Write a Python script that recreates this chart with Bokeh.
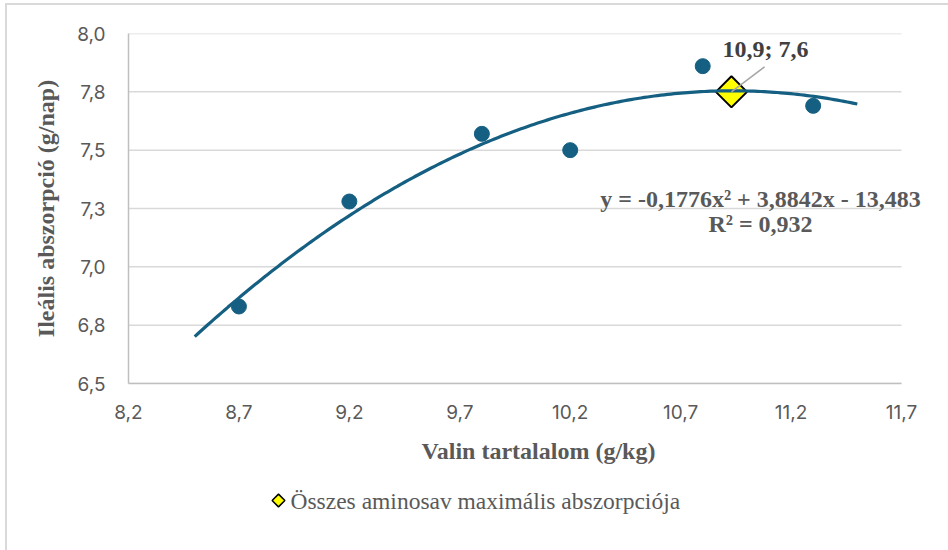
import numpy as np
from bokeh.plotting import figure
from bokeh.layouts import column
from bokeh.models import Range1d, FixedTicker, Label
from bokeh.embed import file_html
from bokeh.resources import INLINE

# ---- data ----
valin = [8.7, 9.2, 9.8, 10.2, 10.8, 11.3]
abszorpcio = [6.83, 7.28, 7.57, 7.50, 7.86, 7.69]
trend_coef = [-0.1776, 3.8842, -13.483]
trend_x_range = [8.5, 11.5]
peak_x = [10.93]
peak_y = [7.75]
peak_label = "10,9; 7,6"
equation_text = "y = -0,1776x² + 3,8842x - 13,483"
r2_text = "R² = 0,932"
legend_label = "Összes aminosav maximális abszorpciója"
x_ticks = [8.2, 8.7, 9.2, 9.7, 10.2, 10.7, 11.2, 11.7]
x_tick_labels = ["8,2", "8,7", "9,2", "9,7", "10,2", "10,7", "11,2", "11,7"]
y_ticks = [6.5, 6.75, 7.0, 7.25, 7.5, 7.75, 8.0]
y_tick_labels = ["6,5", "6,8", "7,0", "7,3", "7,5", "7,8", "8,0"]
x_title = "Valin tartalalom (g/kg)"
y_title = "Ileális abszorpció (g/nap)"

BLUE = "#156082"
SERIF = "Liberation Serif"
SANS = "Inter"

# ---- layout (page pixels) ----
BORDER = 2
OFF_X, OFF_Y = 5, 3            # outer border offset
ORIGIN_X = OFF_X + BORDER      # page x of the figures' left edge
ORIGIN_Y = OFF_Y + BORDER      # page y of the main figure's top edge
FRAME_L, FRAME_T, FRAME_B = 128, 33, 383
MAIN_BOTTOM = 485
AXIS_PX = 773
PAGE_W, PAGE_H = 948, 550
W = PAGE_W - ORIGIN_X
EXTRA_PX = PAGE_W - (FRAME_L + AXIS_PX)
x_end = x_ticks[-1] + EXTRA_PX * (x_ticks[-1] - x_ticks[0]) / AXIS_PX
H1 = MAIN_BOTTOM - ORIGIN_Y
H2 = PAGE_H - MAIN_BOTTOM

p = figure(width=W, height=H1,
           x_range=Range1d(x_ticks[0], x_end),
           y_range=Range1d(y_ticks[0], y_ticks[-1]),
           output_backend="svg", toolbar_location=None,
           min_border_left=FRAME_L - ORIGIN_X, min_border_right=0,
           min_border_top=FRAME_T - ORIGIN_Y,
           min_border_bottom=MAIN_BOTTOM - FRAME_B)
p.outline_line_color = None
p.background_fill_color = "white"
p.border_fill_color = "white"

# axes
xa = p.xaxis[0]
xa.ticker = FixedTicker(ticks=x_ticks)
xa.major_label_overrides = {t: l for t, l in zip(x_ticks, x_tick_labels)}
xa.bounds = (x_ticks[0], x_ticks[-1])
ya = p.yaxis[0]
ya.ticker = FixedTicker(ticks=y_ticks)
ya.major_label_overrides = {t: l for t, l in zip(y_ticks, y_tick_labels)}
for ax in (xa, ya):
    ax.axis_line_color = "#bfbfbf"
    ax.axis_line_width = 1.5
    ax.major_tick_line_color = None
    ax.minor_tick_line_color = None
    ax.major_tick_out = 0
    ax.major_tick_in = 0
    ax.major_label_text_font = SANS
    ax.major_label_text_font_size = "19px"
    ax.major_label_text_color = "#595959"
    ax.axis_label_text_font = SERIF
    ax.axis_label_text_font_style = "bold"
    ax.axis_label_text_font_size = "24px"
    ax.axis_label_text_color = "#595959"
xa.axis_label = x_title
ya.axis_label = y_title
xa.major_label_standoff = 21
xa.axis_label_standoff = 16
ya.major_label_standoff = 23
ya.axis_label_standoff = 15

p.xgrid.grid_line_color = None
p.ygrid.grid_line_color = None

# horizontal gridlines, limited to the axis extent
p.segment(x0=[x_ticks[0]] * len(y_ticks), x1=[x_ticks[-1]] * len(y_ticks),
          y0=y_ticks, y1=y_ticks, line_color="#d9d9d9", line_width=1.5)

# data points
p.scatter(valin, abszorpcio, size=15, marker="circle",
          fill_color=BLUE, line_color=BLUE)

# maximum absorption marker
p.scatter(peak_x, peak_y, marker="square", angle=np.pi / 4, size=22,
          fill_color="#ffff00", line_color="black", line_width=2)

# polynomial trendline
tx = np.linspace(trend_x_range[0], trend_x_range[1], 200)
ty = np.polyval(trend_coef, tx)
p.line(tx, ty, line_color=BLUE, line_width=3.2)

# leader line to data label
p.segment(x0=peak_x, y0=peak_y, x1=[peak_x[0] + 0.15], y1=[peak_y[0] + 0.107],
          line_color="#a6a6a6", line_width=1.5)

p.add_layout(Label(x=peak_x[0], y=peak_y[0], x_offset=-9, y_offset=43,
                   text=peak_label, text_font=SERIF, text_font_style="bold",
                   text_font_size="24px", text_color="#404040",
                   text_align="left", text_baseline="middle"))

# trendline equation
p.add_layout(Label(x=632, y=185, x_units="screen", y_units="screen",
                   text=equation_text, text_font=SERIF, text_font_style="bold",
                   text_font_size="24px", text_color="#595959",
                   text_align="center", text_baseline="middle"))
p.add_layout(Label(x=632, y=160, x_units="screen", y_units="screen",
                   text=r2_text, text_font=SERIF, text_font_style="bold",
                   text_font_size="24px", text_color="#595959",
                   text_align="center", text_baseline="middle"))

# ---- legend strip below the chart (ranges in page pixels) ----
lf = figure(width=W, height=H2,
            x_range=Range1d(FRAME_L, PAGE_W), y_range=Range1d(0, H2),
            x_axis_location=None, y_axis_location=None,
            output_backend="svg", toolbar_location=None,
            min_border_left=FRAME_L - ORIGIN_X, min_border_right=0,
            min_border_top=0, min_border_bottom=0)
lf.outline_line_color = None
lf.xgrid.visible = False
lf.ygrid.visible = False
LEG_KEY_X = 278
LEG_Y = PAGE_H - 500
lf.scatter(x=[LEG_KEY_X], y=[LEG_Y], marker="square", angle=np.pi / 4, size=9,
           fill_color="#ffff00", line_color="black", line_width=1.5)
lf.add_layout(Label(x=LEG_KEY_X + 12, y=LEG_Y, text=legend_label,
                    text_font=SERIF, text_font_size="23.5px",
                    text_color="#595959", text_align="left", text_baseline="middle"))

layout = column(p, lf, spacing=0,
                styles={"border-left": f"{BORDER}px solid #d9d9d9",
                        "border-top": f"{BORDER}px solid #d9d9d9",
                        "margin-left": f"{OFF_X}px",
                        "margin-top": f"{OFF_Y}px"})

open("out.html", "w").write(file_html(layout, INLINE))
